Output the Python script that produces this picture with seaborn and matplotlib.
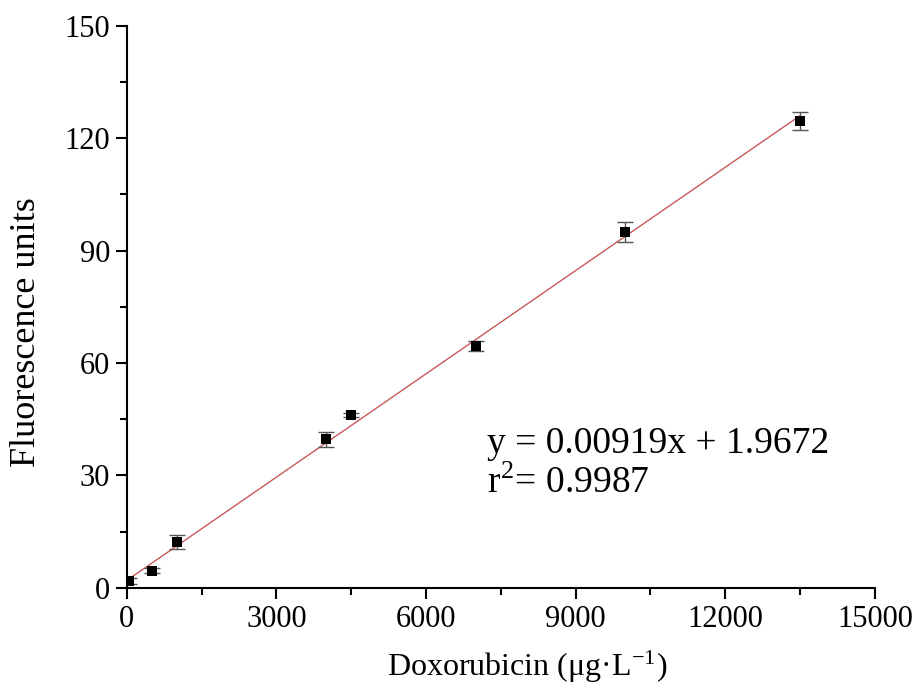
import numpy as np
import pandas as pd
import seaborn as sns
import matplotlib.pyplot as plt
from matplotlib.ticker import MultipleLocator

# calibration data
concentration = [50, 500, 1000, 4000, 4500, 7000, 10000, 13500]
fluorescence = [1.8, 4.6, 12.2, 39.7, 46.2, 64.6, 94.9, 124.6]
error = [0.8, 0.7, 1.8, 2.0, 0.6, 1.3, 2.7, 2.4]

slope = 0.00919
intercept = 1.9672
fit_x = [0, 13500]

sns.set_style("ticks")
plt.rcParams["font.family"] = ["Liberation Serif", "DejaVu Serif"]
plt.rcParams["mathtext.fontset"] = "stix"
plt.rcParams["text.color"] = "black"
plt.rcParams["axes.labelcolor"] = "black"
plt.rcParams["xtick.color"] = "black"
plt.rcParams["ytick.color"] = "black"

df = pd.DataFrame({"x": concentration, "y": fluorescence, "err": error})
fit = pd.DataFrame({"x": fit_x, "y": [slope * v + intercept for v in fit_x]})

fig, ax = plt.subplots(figsize=(9.18, 6.99), dpi=100)

sns.lineplot(data=fit, x="x", y="y", color="#c8585a", linewidth=1.0, ax=ax)
ax.errorbar(df["x"], df["y"], yerr=df["err"], fmt="none", ecolor="#555555",
            elinewidth=1.0, capsize=6, capthick=1.0, zorder=3)
sns.scatterplot(data=df, x="x", y="y", marker="s", color="black", s=45,
                edgecolor="black", linewidth=0, ax=ax, zorder=4)

ax.set_xlim(0, 15000)
ax.set_ylim(0, 150)
ax.xaxis.set_major_locator(MultipleLocator(3000))
ax.xaxis.set_minor_locator(MultipleLocator(1500))
ax.yaxis.set_major_locator(MultipleLocator(30))
ax.yaxis.set_minor_locator(MultipleLocator(15))
ax.tick_params(which="major", direction="out", length=8, width=1.5,
               labelsize=22, color="black", labelcolor="black", pad=4)
ax.tick_params(which="minor", direction="out", length=5, width=1.5,
               color="black")
for side in ["left", "bottom"]:
    ax.spines[side].set_linewidth(1.5)
    ax.spines[side].set_color("black")
sns.despine(ax=ax)

ax.set_xlabel(r"Doxorubicin (μg·L$^{\mathregular{-1}}$)", fontsize=23, color="black")
ax.xaxis.set_label_coords(0.536, -0.108)
ax.set_ylabel("Fluorescence units", fontsize=26, color="black")
ax.yaxis.set_label_coords(-0.112, 0.455)

ax.text(7220, 36.0, "y = 0.00919x + 1.9672", fontsize=27, va="baseline", color="black")
ax.text(7220, 25.4, r"r$^{\mathregular{2}}$= 0.9987", fontsize=27, va="baseline", color="black")

fig.subplots_adjust(left=0.138, right=0.953, top=0.963, bottom=0.159)
fig.savefig("out.png", dpi=100)
